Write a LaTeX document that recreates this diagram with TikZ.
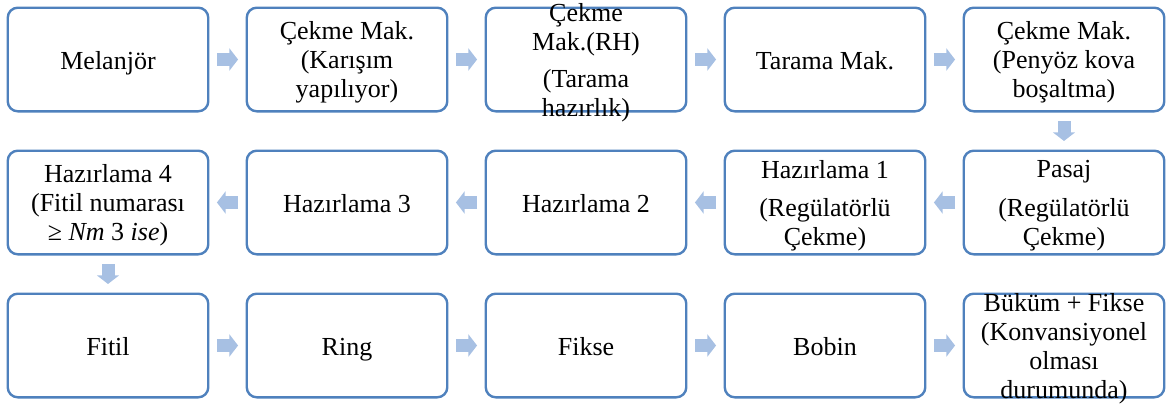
\documentclass[tikz,border=0pt]{standalone}
\usepackage{fontspec}
\setmainfont{Liberation Serif}
\usetikzlibrary{arrows.meta}
\definecolor{kenar}{RGB}{79,129,189}
\definecolor{okrenk}{RGB}{167,192,227}
\tikzset{
  box/.style={draw=kenar,line width=1.8pt,rounded corners=7.5pt,
    minimum width=150.4pt,minimum height=77.7pt,inner sep=0pt},
  txt/.style={align=center,inner sep=0pt,yshift=-3.5pt,
    font=\fontsize{19.5}{21.8}\selectfont,
    execute at begin node=\strut,execute at end node=\strut},
  flow/.style={draw=okrenk,line width=9.75pt,
    -{Triangle[length=6.5pt,width=16.5pt]},shorten <=5.6pt,shorten >=5.6pt}
}
\begin{document}
\begin{tikzpicture}[x=0.75pt,y=-0.75pt]
\useasboundingbox (0,0) rectangle (1167,405);
% first row
\node[box,label={[txt]center:Melanjör}] (m1) at (108,59.5) {};
\node[box,label={[txt]center:{Çekme Mak.\\(Karışım\\yapılıyor)}}] (m2) at (347,59.5) {};
\node[box,label={[txt]center:{Çekme\\Mak.(RH)\\[6pt](Tarama\\hazırlık)}}] (m3) at (586,59.5) {};
\node[box,label={[txt]center:Tarama Mak.}] (m4) at (825,59.5) {};
\node[box,label={[txt]center:{Çekme Mak.\\(Penyöz kova\\boşaltma)}}] (m5) at (1064,59.5) {};
% second row
\node[box,label={[txt]center:{Pasaj\\[7pt](Regülatörlü\\Çekme)}}] (m6) at (1064,202.5) {};
\node[box,label={[txt]center:{Hazırlama 1\\[7pt](Regülatörlü\\Çekme)}}] (m7) at (825,202.5) {};
\node[box,label={[txt]center:Hazırlama 2}] (m8) at (586,202.5) {};
\node[box,label={[txt]center:Hazırlama 3}] (m9) at (347,202.5) {};
\node[box,label={[txt]center:{Hazırlama 4\\(Fitil numarası\\≥ \textit{Nm} 3 \textit{ise})}}] (m10) at (108,202.5) {};
% third row
\node[box,label={[txt]center:Fitil}] (m11) at (108,345.5) {};
\node[box,label={[txt]center:Ring}] (m12) at (347,345.5) {};
\node[box,label={[txt]center:Fikse}] (m13) at (586,345.5) {};
\node[box,label={[txt]center:Bobin}] (m14) at (825,345.5) {};
\node[box,label={[txt]center:{Büküm + Fikse\\(Konvansiyonel\\olması\\durumunda)}}] (m15) at (1064,345.5) {};

\draw[flow] (m1) -- (m2);
\draw[flow] (m2) -- (m3);
\draw[flow] (m3) -- (m4);
\draw[flow] (m4) -- (m5);
\draw[flow,shorten <=6.4pt,shorten >=6.4pt] (m5) -- (m6);
\draw[flow] (m6) -- (m7);
\draw[flow] (m7) -- (m8);
\draw[flow] (m8) -- (m9);
\draw[flow] (m9) -- (m10);
\draw[flow,shorten <=6.4pt,shorten >=6.4pt] (m10) -- (m11);
\draw[flow] (m11) -- (m12);
\draw[flow] (m12) -- (m13);
\draw[flow] (m13) -- (m14);
\draw[flow] (m14) -- (m15);
\end{tikzpicture}
\end{document}
